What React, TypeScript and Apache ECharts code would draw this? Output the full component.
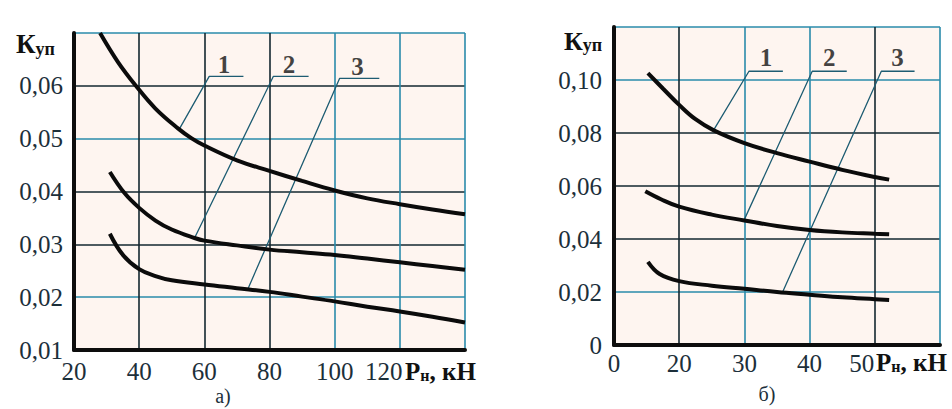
import React, { useEffect, useRef } from "react";
import * as echarts from "echarts";

const FONT = '"Liberation Serif", "DejaVu Serif", serif';
const TEXT = "#1c2f3a";
const TEAL = "#2a8bab";
const DARK = "#132730";
const CURVE = "#0b0b0b";
const LEADER = "#1d5c72";

// ---- Panel а) ----
const aXMin = 20;
const aXMax = 140;
const aXStep = 20;
const aYMin = 0.01;
const aYMax = 0.07;
const aYStep = 0.01;

const aCurve1: number[][] = [
  [28, 0.07], [33.5, 0.0645], [39, 0.06], [45, 0.0557], [52, 0.0519], [56, 0.0501],
  [60, 0.0487], [70, 0.0459], [80, 0.0439], [90, 0.042], [100, 0.0402],
  [110, 0.0387], [120, 0.0376], [130, 0.0366], [140, 0.0357],
];
const aCurve2: number[][] = [
  [31, 0.0437], [35.5, 0.0397], [40, 0.0369], [45, 0.0345], [50, 0.0328],
  [57, 0.0312], [60, 0.0307], [70, 0.0298], [80, 0.029], [90, 0.0285],
  [100, 0.028], [110, 0.0273], [120, 0.0266], [130, 0.0259], [140, 0.0252],
];
const aCurve3: number[][] = [
  [31, 0.032], [35, 0.028], [40, 0.0253], [45, 0.024], [50, 0.0232],
  [60, 0.0224], [70, 0.0217], [80, 0.021], [90, 0.0201], [100, 0.0192],
  [110, 0.0182], [120, 0.0173], [130, 0.0163], [140, 0.0152],
];
const aLeader1: number[][] = [[52.4, 0.0519], [61.5, 0.0618], [72, 0.0618]];
const aLeader2: number[][] = [[57, 0.0312], [81.2, 0.0618], [92, 0.0618]];
const aLeader3: number[][] = [[73.4, 0.0216], [101.5, 0.0614], [113.7, 0.0614]];
const aLabelNames = ["1", "2", "3"];
const aLabelPos: number[][] = [[66, 0.0641], [86, 0.0641], [107, 0.0637]];

// ---- Panel б) ----
const bXMin = 10; // drawn with the label "0" (broken axis)
const bXMax = 60;
const bXStep = 10;
const bYMin = 0;
const bYMax = 0.12;
const bYStep = 0.02;

const bCurve1: number[][] = [
  [15.2, 0.1026], [17.5, 0.0968], [20, 0.0906], [22.5, 0.0852], [25.3, 0.081],
  [30, 0.0762], [35, 0.0724], [40, 0.0692], [45, 0.0661], [50, 0.0634], [52.2, 0.0624],
];
const bCurve2: number[][] = [
  [14.8, 0.058], [17.2, 0.055], [20, 0.0522], [25, 0.0492], [30, 0.047],
  [35, 0.0449], [40, 0.0434], [45, 0.0425], [50, 0.042], [52.2, 0.0418],
];
const bCurve3: number[][] = [
  [15.2, 0.0314], [17, 0.0268], [20, 0.0241], [25, 0.0224], [30, 0.0212],
  [35, 0.02], [40, 0.019], [45, 0.018], [50, 0.0173], [52.2, 0.017],
];
const bLeader1: number[][] = [[25.3, 0.0812], [30.7, 0.1033], [35.9, 0.1033]];
const bLeader2: number[][] = [[30, 0.0474], [40.4, 0.1033], [45.7, 0.1033]];
const bLeader3: number[][] = [[35.9, 0.0202], [51, 0.1033], [56.1, 0.1033]];
const bLabelNames = ["1", "2", "3"];
const bLabelPos: number[][] = [[33.3, 0.1085], [43, 0.1085], [53.5, 0.1085]];

const yLabel = (max: number, zeroAsInt: boolean) => (v: number) => {
  if (Math.abs(v - max) < 1e-9) return "";
  if (zeroAsInt && Math.abs(v) < 1e-9) return "0";
  return v.toFixed(2).replace(".", ",");
};

const curveSeries = (data: number[][], idx: number) => ({
  type: "line",
  xAxisIndex: idx,
  yAxisIndex: idx,
  data,
  smooth: 0.4,
  symbol: "none",
  lineStyle: { color: CURVE, width: 4 },
  z: 5,
});

const leaderSeries = (data: number[][], idx: number) => ({
  type: "line",
  xAxisIndex: idx,
  yAxisIndex: idx,
  data,
  symbol: "none",
  lineStyle: { color: LEADER, width: 1.3 },
  z: 4,
});

const labelSeries = (names: string[], pos: number[][], idx: number) => ({
  type: "scatter",
  xAxisIndex: idx,
  yAxisIndex: idx,
  symbolSize: 2,
  itemStyle: { color: "rgba(0,0,0,0)" },
  data: names.map((n, i) => ({ name: n, value: pos[i] })),
  label: {
    show: true,
    position: "inside",
    formatter: (p: any) => p.name,
    fontFamily: FONT,
    fontWeight: "bold",
    fontSize: 25,
    color: "#111",
  },
  z: 6,
});

const richTitle = (x: number, y: number, main: string, sub: string, tail: string, mainSize: number, subSize: number) => ({
  type: "text",
  x,
  y,
  style: {
    text: `{m|${main}}{s|${sub}}` + (tail ? `{m|${tail}}` : ""),
    textVerticalAlign: "middle",
    rich: {
      m: { fontFamily: FONT, fontWeight: "bold", fontSize: mainSize, fill: "#111", verticalAlign: "bottom" },
      s: { fontFamily: FONT, fontWeight: "bold", fontSize: subSize, fill: "#111", verticalAlign: "bottom" },
    },
  },
  z: 10,
});

export default function App() {
  const ref = useRef<HTMLDivElement>(null);
  useEffect(() => {
    if (!ref.current) return;
    const chart = echarts.init(ref.current, undefined, { renderer: "svg" });
    const axisLabelBase = { fontFamily: FONT, fontSize: 25, color: TEXT };
    const option: any = {
      animation: false,
      backgroundColor: "#ffffff",
      grid: [
        { left: 74, top: 33, width: 391, height: 317, show: true, backgroundColor: "#fef5f0", borderWidth: 0 },
        { left: 614, top: 27, width: 326, height: 318, show: true, backgroundColor: "#fef5f0", borderWidth: 0 },
      ],
      xAxis: [
        {
          gridIndex: 0, type: "value", min: aXMin, max: aXMax, interval: aXStep,
          axisLine: { show: true, onZero: false, lineStyle: { color: "#0d0d0d", width: 4 } },
          axisTick: { show: false },
          axisLabel: {
            ...axisLabelBase, margin: 9,
            formatter: (v: number) => (v === aXMax ? "" : v === aXMax - aXStep ? `{last|${v}}` : `{n|${v}}`),
            rich: {
              n: { fontFamily: FONT, fontSize: 25, color: TEXT },
              last: { fontFamily: FONT, fontSize: 25, color: TEXT, padding: [0, 32, 0, 0] },
            },
          },
          splitLine: { show: true, lineStyle: { width: 1.6, color: [DARK, DARK, DARK, DARK, TEAL, TEAL, TEAL] } },
        },
        {
          gridIndex: 1, type: "value", min: bXMin, max: bXMax, interval: bXStep,
          axisLine: { show: true, onZero: false, lineStyle: { color: "#0d0d0d", width: 4 } },
          axisTick: { show: false },
          axisLabel: {
            ...axisLabelBase, margin: 6,
            formatter: (v: number) =>
              v === bXMax ? "" : v === bXMin ? "{n|0}" : v === bXMax - bXStep ? `{last|${v}}` : `{n|${v}}`,
            rich: {
              n: { fontFamily: FONT, fontSize: 25, color: TEXT },
              last: { fontFamily: FONT, fontSize: 25, color: TEXT, padding: [0, 26, 0, 0] },
            },
          },
          splitLine: { show: true, lineStyle: { width: 1.6, color: [DARK, DARK, TEAL, TEAL, DARK, TEAL] } },
        },
      ],
      yAxis: [
        {
          gridIndex: 0, type: "value", min: aYMin, max: aYMax, interval: aYStep,
          axisLine: { show: true, onZero: false, lineStyle: { color: "#0d0d0d", width: 4 } },
          axisTick: { show: false },
          axisLabel: { ...axisLabelBase, margin: 11, formatter: yLabel(aYMax, false) },
          splitLine: { show: true, lineStyle: { width: 1.6, color: [DARK, TEAL, DARK, DARK, TEAL, DARK, TEAL] } },
        },
        {
          gridIndex: 1, type: "value", min: bYMin, max: bYMax, interval: bYStep,
          axisLine: { show: true, onZero: false, lineStyle: { color: "#0d0d0d", width: 4 } },
          axisTick: { show: false },
          axisLabel: { ...axisLabelBase, margin: 12, formatter: yLabel(bYMax, true) },
          splitLine: { show: true, lineStyle: { width: 1.6, color: [DARK, TEAL, DARK, DARK, DARK, TEAL, TEAL] } },
        },
      ],
      series: [
        curveSeries(aCurve1, 0),
        curveSeries(aCurve2, 0),
        curveSeries(aCurve3, 0),
        leaderSeries(aLeader1, 0),
        leaderSeries(aLeader2, 0),
        leaderSeries(aLeader3, 0),
        labelSeries(aLabelNames, aLabelPos, 0),
        curveSeries(bCurve1, 1),
        curveSeries(bCurve2, 1),
        curveSeries(bCurve3, 1),
        leaderSeries(bLeader1, 1),
        leaderSeries(bLeader2, 1),
        leaderSeries(bLeader3, 1),
        labelSeries(bLabelNames, bLabelPos, 1),
      ],
      graphic: [
        richTitle(16, 44, "К", "уп", "", 27, 18),
        richTitle(564, 41, "К", "уп", "", 26, 18),
        richTitle(405, 371, "P", "н", ", кН", 25, 16),
        richTitle(876, 362, "P", "н", ", кН", 25, 16),
        {
          type: "text", x: 223, y: 396,
          style: { text: "а)", fontFamily: FONT, fontSize: 20, fill: TEXT, textAlign: "center", textVerticalAlign: "middle" },
        },
        {
          type: "text", x: 767, y: 394,
          style: { text: "б)", fontFamily: FONT, fontSize: 20, fill: TEXT, textAlign: "center", textVerticalAlign: "middle" },
        },
      ],
    };
    chart.setOption(option);
    return () => chart.dispose();
  }, []);
  return <div ref={ref} style={{ position: "absolute", left: 0, top: 0, width: 952, height: 409 }} />;
}
